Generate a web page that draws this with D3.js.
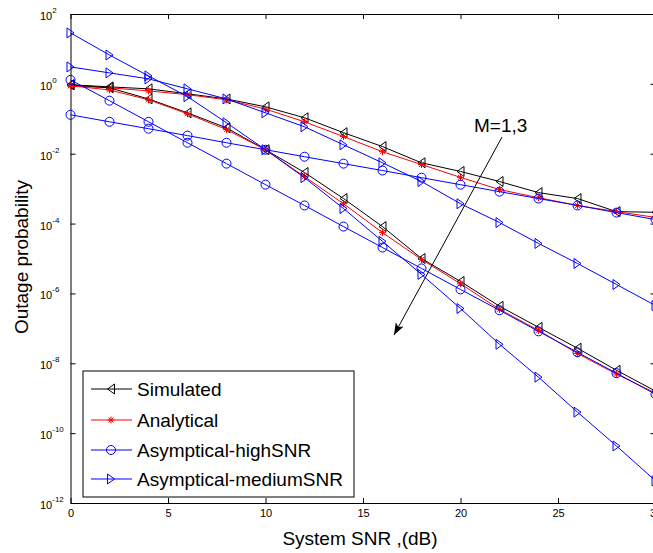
<!DOCTYPE html>
<html>
<head>
<meta charset="utf-8">
<script src="https://cdn.jsdelivr.net/npm/d3@7"></script>
<style>
	body { margin: 0; background: #fff; }
	svg { display: block; font-family: "Liberation Sans", Arial, sans-serif; }
	.axis path, .axis line { stroke: #000; }
</style>
</head>
<body>
<div class="container"></div>
<script>
// values
var snr = [0, 2, 4, 6, 8, 10, 12, 14, 16, 18, 20, 22, 24, 26, 28, 30];

var simM1  = [0.94, 0.82, 0.72, 0.52, 0.37, 0.22, 0.107, 0.040, 0.016, 5.5e-3, 3.1e-3, 1.6e-3, 7.7e-4, 5.2e-4, 2.2e-4, 2.1e-4];
var anaM1  = [0.88, 0.77, 0.63, 0.49, 0.35, 0.19, 0.082, 0.031, 0.0114, 4.9e-3, 2.1e-3, 9.4e-4, 5.5e-4, 3.3e-4, 2.2e-4, 1.5e-4];
var highM1 = [0.13, 0.082, 0.052, 0.033, 0.0206, 0.013, 8.2e-3, 5.2e-3, 3.3e-3, 2.06e-3, 1.3e-3, 8.2e-4, 5.2e-4, 3.3e-4, 2.06e-4, 1.3e-4];
var medM1  = [3.06, 2.06, 1.39, 0.72, 0.37, 0.148, 0.059, 0.018, 5.5e-3, 1.6e-3, 3.7e-4, 1.07e-4, 2.7e-5, 7.2e-6, 1.8e-6, 4.5e-7];

var simM3  = [0.94, 0.77, 0.37, 0.148, 0.055, 0.013, 2.9e-3, 5.2e-4, 8.2e-5, 1.0e-5, 2.2e-6, 4.3e-7, 1.07e-7, 2.7e-8, 6.3e-9, 1.6e-9];
var anaM3  = [0.88, 0.67, 0.35, 0.139, 0.049, 0.013, 2.2e-3, 3.7e-4, 5.5e-5, 9.4e-6, 1.9e-6, 3.5e-7, 8.8e-8, 1.9e-8, 4.9e-9, 1.4e-9];
var highM3 = [1.3, 0.33, 0.082, 0.0206, 5.2e-3, 1.3e-3, 3.3e-4, 8.2e-5, 2.06e-5, 5.2e-6, 1.3e-6, 3.3e-7, 8.2e-8, 2.06e-8, 5.2e-9, 1.3e-9];
var medM3  = [28.7, 6.7, 1.69, 0.43, 0.077, 0.013, 2.06e-3, 2.7e-4, 3.1e-5, 3.5e-6, 3.7e-7, 3.5e-8, 4.0e-9, 4.0e-10, 4.3e-11, 4.3e-12];

var xTicks = [0, 5, 10, 15, 20, 25, 30];
var yExponents = [2, 0, -2, -4, -6, -8, -10, -12];

var legendNames = ['Simulated', 'Analytical', 'Asymptical-highSNR', 'Asymptical-mediumSNR'];

const WIDTH = 653;
const HEIGHT = 553;
const LEFT = 70.5;
const RIGHT = 655.5;
const TOP = 14;
const BOTTOM = 503;

var styles = [
	{ color: '#000000', marker: 'triLeft' },
	{ color: '#ff0000', marker: 'star' },
	{ color: '#0000ff', marker: 'circle' },
	{ color: '#0000ff', marker: 'triRight' }
];

var markerPath = function(type) {
	if (type == 'triLeft') return 'M-3.5,0L3.5,-5L3.5,5Z';
	if (type == 'triRight') return 'M3.5,0L-3.5,-5L-3.5,5Z';
	if (type == 'star') return 'M-3.5,0H3.5M0,-3.5V3.5M-2.5,-2.5L2.5,2.5M-2.5,2.5L2.5,-2.5';
	return 'M4.5,0A4.5,4.5 0 1,1 -4.5,0A4.5,4.5 0 1,1 4.5,0Z';
}

var _x, _y;

var onload = function() {
	var svg = d3.select('.container').append('svg')
		.attr('width', WIDTH)
		.attr('height', HEIGHT);

	_x = d3.scaleLinear().domain([0, 30]).range([LEFT, RIGHT]);
	_y = d3.scaleLog().domain([1e-12, 1e2]).range([BOTTOM, TOP]);

	drawAxis(svg);
	drawLines(svg);
	drawAnnotation(svg);
	drawLegend(svg);
}

var drawAxis = function(svg) {
	var yTickValues = yExponents.map(function(e) { return Math.pow(10, e); });

	svg.append('g').classed('axis', true)
		.attr('transform', 'translate(0,' + BOTTOM + ')')
		.call(d3.axisBottom(_x).tickValues(xTicks).tickSize(-5).tickSizeOuter(0).tickPadding(6))
		.call(function(g) {
			g.selectAll('text').attr('font-size', 11).attr('fill', '#000')
				.attr('font-family', '"Liberation Sans", Arial, sans-serif');
		});
	svg.append('g').classed('axis', true)
		.attr('transform', 'translate(0,' + TOP + ')')
		.call(d3.axisTop(_x).tickValues(xTicks).tickSize(-5).tickSizeOuter(0).tickFormat(''));
	svg.append('g').classed('axis', true)
		.attr('transform', 'translate(' + LEFT + ',0)')
		.call(d3.axisLeft(_y).tickValues(yTickValues).tickSize(-5).tickSizeOuter(0).tickFormat(''));
	svg.append('g').classed('axis', true)
		.attr('transform', 'translate(' + RIGHT + ',0)')
		.call(d3.axisRight(_y).tickValues(yTickValues).tickSize(-5).tickSizeOuter(0).tickFormat(''));

	var labels = svg.append('g').attr('font-size', 11).attr('fill', '#000');
	yExponents.forEach(function(e) {
		var t = labels.append('text')
			.attr('x', 40)
			.attr('y', _y(Math.pow(10, e)) + 6)
			.text('10');
		t.append('tspan')
			.attr('dy', -7)
			.attr('font-size', 8)
			.text(e);
	});

	svg.append('text')
		.attr('x', (LEFT + RIGHT) / 2 - 3)
		.attr('y', 545)
		.attr('text-anchor', 'middle')
		.attr('font-size', 19)
		.text('System SNR ,(dB)');

	svg.append('text')
		.attr('transform', 'translate(28,257) rotate(-90)')
		.attr('text-anchor', 'middle')
		.attr('font-size', 19)
		.text('Outage probability');
}

var drawLines = function(svg) {
	var groups = [
		[simM1, anaM1, highM1, medM1],
		[simM3, anaM3, highM3, medM3]
	];
	var line = d3.line()
		.x(function(d, i) { return _x(snr[i]); })
		.y(function(d) { return _y(d); });

	var g = svg.append('g').classed('lineChart', true);
	groups.forEach(function(group) {
		group.forEach(function(values, k) {
			var st = styles[k];
			g.append('path')
				.datum(values)
				.attr('d', line)
				.attr('fill', 'none')
				.attr('stroke', st.color)
				.attr('stroke-width', 1);
			g.selectAll(null).data(values).enter().append('path')
				.attr('transform', function(d, i) { return 'translate(' + _x(snr[i]) + ',' + _y(d) + ')'; })
				.attr('d', markerPath(st.marker))
				.attr('fill', 'none')
				.attr('stroke', st.color)
				.attr('stroke-width', 1);
		});
	});
}

var drawAnnotation = function(svg) {
	svg.append('defs').append('marker')
		.attr('id', 'arrow')
		.attr('viewBox', '-12 -5 14 10')
		.attr('markerWidth', 14)
		.attr('markerHeight', 10)
		.attr('markerUnits', 'userSpaceOnUse')
		.attr('refX', 0)
		.attr('refY', 0)
		.attr('orient', 'auto')
		.append('path')
		.attr('d', 'M0,0L-12,-4.5L-9,0L-12,4.5Z')
		.attr('fill', '#000');

	svg.append('line')
		.attr('x1', 502).attr('y1', 137)
		.attr('x2', 394).attr('y2', 335)
		.attr('stroke', '#000')
		.attr('stroke-width', 1)
		.attr('marker-end', 'url(#arrow)');

	svg.append('text')
		.attr('x', 474)
		.attr('y', 132)
		.attr('font-size', 19)
		.text('M=1,3');
}

var drawLegend = function(svg) {
	var lg = svg.append('g').classed('legend', true);
	lg.append('rect')
		.attr('x', 83).attr('y', 371)
		.attr('width', 271).attr('height', 126)
		.attr('fill', '#fff')
		.attr('stroke', '#000')
		.attr('stroke-width', 1);

	var rows = [389, 420, 450, 479];
	legendNames.forEach(function(name, k) {
		var st = styles[k];
		var ry = rows[k];
		lg.append('line')
			.attr('x1', 91).attr('x2', 132)
			.attr('y1', ry).attr('y2', ry)
			.attr('stroke', st.color);
		lg.append('path')
			.attr('transform', 'translate(111,' + ry + ')')
			.attr('d', markerPath(st.marker))
			.attr('fill', 'none')
			.attr('stroke', st.color);
		lg.append('text')
			.attr('x', 137)
			.attr('y', ry + 7)
			.attr('font-size', 19)
			.text(name);
	});
}

window.onload = onload;
</script>
</body>
</html>
